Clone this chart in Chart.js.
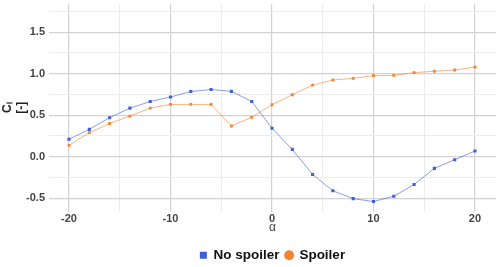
<!DOCTYPE html>
<html>
<head>
<meta charset="utf-8">
<script src="https://cdn.jsdelivr.net/npm/chart.js@4"></script>
<style>
  html, body { margin: 0; padding: 0; background: #fff; }
  #wrap { width: 500px; height: 267px; }
</style>
</head>
<body>
<div id="wrap"><canvas id="cl"></canvas></div>
<script>
const alpha = [-20, -18, -16, -14, -12, -10, -8, -6, -4, -2, 0, 2, 4, 6, 8, 10, 12, 14, 16, 18, 20];
const noSpoiler = [0.21, 0.33, 0.47, 0.585, 0.665, 0.72, 0.785, 0.81, 0.787, 0.666, 0.343, 0.088, -0.214, -0.41, -0.505, -0.54, -0.476, -0.335, -0.14, -0.036, 0.069];
const spoiler = [0.137, 0.29, 0.40, 0.49, 0.585, 0.63, 0.63, 0.63, 0.37, 0.475, 0.626, 0.747, 0.863, 0.924, 0.944, 0.977, 0.98, 1.013, 1.03, 1.045, 1.08];
const yTicks = [-0.5, -0.25, 0, 0.25, 0.5, 0.75, 1, 1.25, 1.5, 1.75];
const xTicks = [-20, -15, -10, -5, 0, 5, 10, 15, 20];

const blue = '#3e5fd6';
const orange = '#f28432';
const tickFont = { family: 'Liberation Sans', size: 11, weight: 'bold' };

const toPoints = (ys) => alpha.map((a, i) => ({ x: a, y: ys[i] }));
const isMajorY = (v) => Math.abs(v * 2 - Math.round(v * 2)) < 1e-6;

new Chart(document.getElementById('cl'), {
  type: 'line',
  data: {
    datasets: [
      {
        label: 'No spoiler',
        data: toPoints(noSpoiler),
        borderColor: 'rgba(62,95,214,0.6)',
        backgroundColor: blue,
        pointBackgroundColor: blue,
        pointBorderWidth: 0,
        pointStyle: 'rect',
        pointRadius: 2.2,
        borderWidth: 1,
        tension: 0
      },
      {
        label: 'Spoiler',
        data: toPoints(spoiler),
        borderColor: 'rgba(242,132,50,0.6)',
        backgroundColor: orange,
        pointBackgroundColor: orange,
        pointBorderWidth: 0,
        pointStyle: 'rect',
        pointRadius: 2,
        borderWidth: 1,
        tension: 0
      }
    ]
  },
  options: {
    responsive: true,
    maintainAspectRatio: false,
    animation: false,
    layout: { padding: { left: 0, right: 0, top: 4, bottom: -5 } },
    plugins: {
      tooltip: { enabled: false },
      legend: {
        position: 'bottom',
        fullSize: false,
        labels: {
          color: '#111',
          font: { family: 'Liberation Sans', size: 13.5, weight: 'bold' },
          usePointStyle: true,
          boxWidth: 7,
          boxHeight: 7,
          padding: 6,
          generateLabels(chart) {
            const items = Chart.defaults.plugins.legend.labels.generateLabels(chart);
            items[0].pointStyle = 'rect';
            items[1].pointStyle = 'circle';
            items.forEach((it) => { it.lineWidth = 0; });
            return items;
          }
        }
      }
    },
    scales: {
      x: {
        type: 'linear',
        min: -21.97,
        max: 22.07,
        afterBuildTicks(scale) { scale.ticks = xTicks.map((v) => ({ value: v })); },
        afterFit(scale) {
          scale.height = 31;
          scale.paddingLeft = 0;
          scale.paddingRight = 0;
        },
        border: { display: false },
        grid: {
          drawTicks: false,
          color: (ctx) => (ctx.tick && ctx.tick.value % 10 === 0 ? '#d2d2d2' : '#ececec'),
          lineWidth: (ctx) => (ctx.tick && ctx.tick.value % 10 === 0 ? 1.2 : 1)
        },
        ticks: {
          color: '#444',
          font: tickFont,
          padding: 1,
          maxRotation: 0,
          callback(value) { return value % 10 === 0 ? value : ''; }
        },
        title: {
          display: true,
          text: 'α',
          color: '#444',
          font: { family: 'Liberation Sans', size: 12 },
          padding: { top: -4, bottom: 8 }
        }
      },
      y: {
        min: -0.66,
        max: 1.84,
        afterBuildTicks(scale) { scale.ticks = yTicks.map((v) => ({ value: v })); },
        afterFit(scale) {
          scale.width = 49;
          scale.paddingTop = 0;
          scale.paddingBottom = 0;
        },
        border: { display: false },
        grid: {
          drawTicks: false,
          color: (ctx) => (ctx.tick && isMajorY(ctx.tick.value) ? '#d2d2d2' : '#ececec'),
          lineWidth: (ctx) => (ctx.tick && isMajorY(ctx.tick.value) ? 1.2 : 1)
        },
        ticks: {
          color: '#444',
          font: tickFont,
          padding: 4,
          callback(value) { return isMajorY(value) ? value.toFixed(1) : ''; }
        },
        title: {
          display: true,
          text: ['Cₗ', '[-]'],
          color: '#222',
          font: { family: 'Liberation Sans', size: 12, weight: 'bold' },
          padding: 0
        }
      }
    }
  }
});
</script>
</body>
</html>
